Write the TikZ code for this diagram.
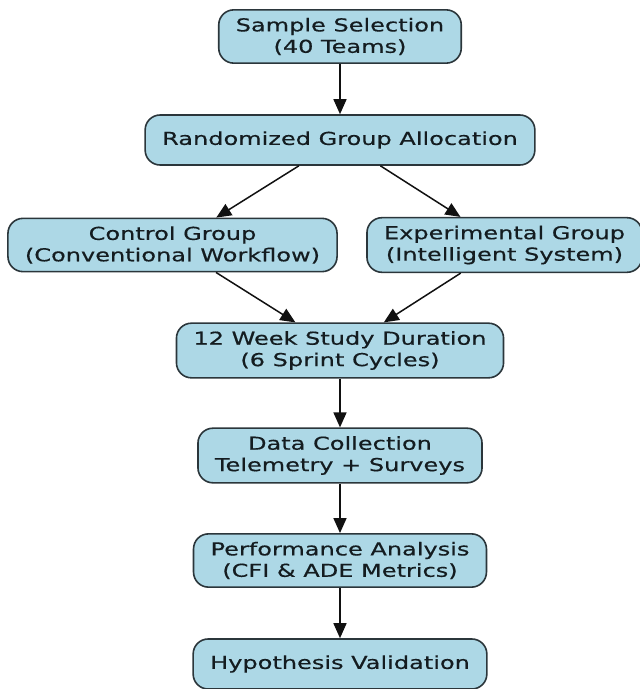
\documentclass[tikz,border=0pt]{standalone}
\usepackage{fontspec}
\setmainfont{DejaVu Sans}[FakeStretch=1.35,FakeBold=0.5]
\usetikzlibrary{arrows.meta}
\definecolor{blueFill}{HTML}{ADD8E6}
\definecolor{blueLine}{HTML}{2B363B}
\definecolor{blueText}{HTML}{141C20}
\definecolor{arrowDark}{HTML}{111111}

\begin{document}
\begin{tikzpicture}[
  x=1pt, y=-1pt,
  stage/.style={
    rectangle, rounded corners=15pt,
    draw=blueLine, fill=blueFill, line width=1.6pt,
    text=blueText, align=center,
    inner xsep=17pt, inner ysep=8pt, minimum height=50pt,
    font=\fontsize{17.8}{21.4}\selectfont
  },
  flow/.style={-{Triangle[length=15pt,width=13pt]}, line width=1.5pt, draw=arrowDark}
]
\useasboundingbox (0,0) rectangle (640,689);

%  Stage boxes
\node[stage] (sample)  at (340,36.5)  {Sample Selection\\(40 Teams)};
\node[stage] (alloc)   at (340,140)   {Randomized Group Allocation};
\node[stage] (control) at (172.5,245) {Control Group\\(Conventional Workflow)};
\node[stage] (exper)   at (504.5,245) {Experimental Group\\(Intelligent System)};
\node[stage] (study)   at (340,350.5) {12 Week Study Duration\\(6 Sprint Cycles)};
\node[stage] (collect) at (340,455.5) {Data Collection\\Telemetry + Surveys};
\node[stage] (perf)    at (340,560.5) {Performance Analysis\\(CFI \& ADE Metrics)};
\node[stage] (hypo)    at (340,664)   {Hypothesis Validation};

%  Flow arrows
\draw[flow] (sample)  -- (alloc);
\draw[flow] (alloc)   -- (control);
\draw[flow] (alloc)   -- (exper);
\draw[flow] (control) -- (study);
\draw[flow] (exper)   -- (study);
\draw[flow] (study)   -- (collect);
\draw[flow] (collect) -- (perf);
\draw[flow] (perf)    -- (hypo);

\end{tikzpicture}
\end{document}
